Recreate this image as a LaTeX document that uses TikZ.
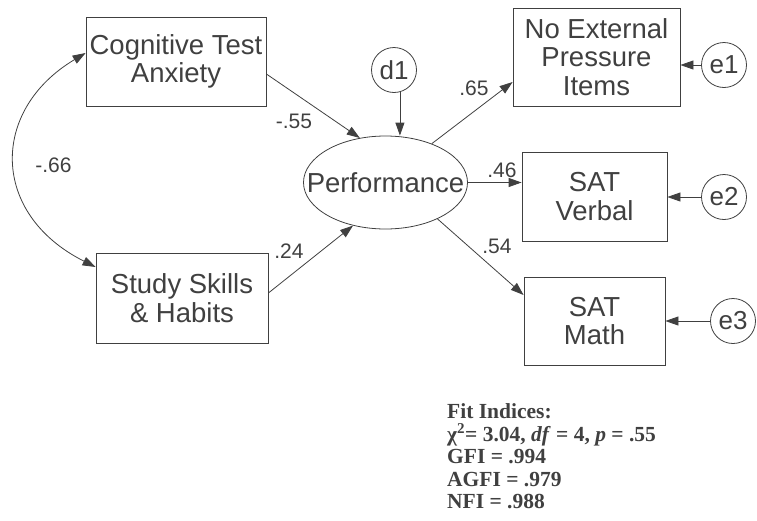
\documentclass[tikz,border=0pt]{standalone}
\usepackage{fontspec}
\setmainfont{Liberation Sans}
\newfontfamily\fitfont{Liberation Serif}
\usetikzlibrary{arrows.meta,shapes.geometric}
\definecolor{ink}{gray}{0.25}

\begin{document}
\begin{tikzpicture}[x=1pt,y=-1pt,
  varbox/.style={draw=ink, line width=0.8pt, text=ink, font=\fontsize{27.5}{28.5}\selectfont, align=center, inner sep=0pt},
  errcirc/.style={circle, draw=ink, line width=0.8pt, text=ink, font=\fontsize{26}{28}\selectfont, minimum size=45pt, inner sep=0pt},
  arr/.style={draw=ink, line width=0.8pt, -{Triangle[length=13pt,width=9pt]}},
  coef/.style={text=ink, font=\fontsize{21}{23}\selectfont, inner sep=0pt}]
\useasboundingbox (0,0) rectangle (757,520);
\node[varbox, minimum width=180pt, minimum height=89pt] (cta) at (176,61.5) {Cognitive Test\\Anxiety};
\node[varbox, minimum width=172pt, minimum height=90pt] (ssh) at (182,298) {Study Skills\\\& Habits};
\node[ellipse, draw=ink, line width=0.8pt, text=ink, font=\fontsize{27.5}{28.5}\selectfont, minimum width=164pt, minimum height=93pt, inner sep=0pt] (perf) at (385.5,182.5) {\makebox[0pt]{Performance}};
\node[errcirc] (d1) at (394,70) {d1};
\node[varbox, minimum width=167pt, minimum height=98pt] (nepi) at (596.5,57) {No External\\Pressure\\Items};
\node[varbox, minimum width=145pt, minimum height=89pt] (satv) at (594.5,196.5) {SAT\\Verbal};
\node[varbox, minimum width=141pt, minimum height=88pt] (satm) at (594.5,321) {SAT\\Math};
\node[errcirc] (e1) at (724,65) {e1};
\node[errcirc] (e2) at (724,197) {e2};
\node[errcirc] (e3) at (733,321) {e3};
\draw[arr] ([yshift=-12.5pt]cta.east) -- (perf.120);
\draw[arr] ([yshift=5pt]ssh.east) -- (perf.233);
\draw[arr] (d1.-75) -- (d1.-75 |- perf.north);
\draw[arr] (perf.40) -- ([yshift=-25pt]nepi.west);
\draw[arr] (perf.east) -- (perf.east -| satv.west);
\draw[arr] (perf.-35) -- ([yshift=26pt]satm.west);
\draw[arr] (e1) -- (e1 -| nepi.east);
\draw[arr] (e2) -- (e2 -| satv.east);
\draw[arr] (e3) -- (e3 -| satm.east);
\draw[arr, {Triangle[length=13pt,width=9pt]}-{Triangle[length=13pt,width=9pt]}] ([yshift=8.5pt]cta.west) .. controls (-10,110) and (-10,214) .. ([yshift=31pt]ssh.west);
\node[coef] (c55) at (294,121) {-.55};
\node[coef] (c66) at (53.5,165.5) {-.66};
\node[coef] (c24) at (289,251.5) {.24};
\node[coef] (c65) at (474,88.5) {.65};
\node[coef] (c46) at (502,170) {.46};
\node[coef] (c54) at (497,246.5) {.54};
\node[anchor=north west, align=left, inner sep=0pt, text=ink, font=\fitfont\bfseries\fontsize{21.5}{22.5}\selectfont] (fit) at (447,403.5) {Fit Indices:\\χ\textsuperscript{2}= 3.04, \textit{df} = 4, \textit{p} = .55\\GFI = .994\\AGFI = .979\\NFI = .988};
\end{tikzpicture}
\end{document}
